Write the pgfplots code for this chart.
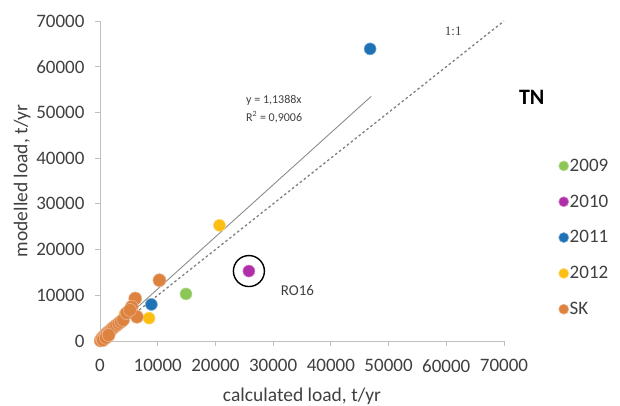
\documentclass[border=0pt]{standalone}
\usepackage{pgfplots}
\pgfplotsset{compat=1.18}
\usepackage{fontspec}
\setmainfont{Carlito}
\newfontfamily\serifone{Liberation Serif}
\definecolor{c09}{HTML}{8CC657}
\definecolor{c10}{HTML}{B02FA8}
\definecolor{c11}{HTML}{1F72B5}
\definecolor{c12}{HTML}{FDBE12}
\definecolor{csk}{HTML}{DE8240}
\definecolor{axgray}{HTML}{BFBFBF}
\definecolor{txgray}{HTML}{404040}
\begin{document}
\begin{tikzpicture}
\path[use as bounding box] (0,0) rectangle (620pt,406pt);
\begin{axis}[
  at={(100pt,65pt)}, anchor=south west,
  scale only axis, width=404pt, height=320pt,
  xmin=0, xmax=70000, ymin=0, ymax=70000,
  axis lines=left, axis line style={axgray, line width=0.8pt, -},
  xtick={0,10000,...,70000}, ytick={0,10000,...,70000},
  tick style={axgray, line width=0.8pt},
  tick align=outside, major tick length=5pt,
  scaled ticks=false,
  /pgf/number format/.cd, set thousands separator={}, assume math mode=true, /pgfplots/.cd,
  tick label style={font=\fontsize{19}{22}\selectfont, text=txgray},
  xticklabel style={yshift=-10pt},
  yticklabel style={xshift=-7pt},
  xlabel={calculated load, t/yr}, ylabel={modelled load, t/yr},
  label style={font=\fontsize{19.5}{23}\selectfont, text=txgray},
  xlabel style={yshift=-9pt},
  ylabel style={yshift=-1pt},
  clip=false,
  legend style={at={(1.135,0.5725)}, anchor=north west, draw=none, fill=none,
    font=\fontsize{19}{22}\selectfont, text=txgray, row sep=20pt, inner sep=0pt,
    nodes={inner sep=1pt}},
  legend cell align=left,
  legend image code/.code={\draw[mark repeat=2,mark phase=2,#1,mark size=5pt] plot coordinates {(0pt,0pt) (5pt,0pt) (10pt,0pt)};},
]
% regression and 1:1 lines
\addplot[forget plot, draw=gray!90, line width=0.9pt] table {
x y
0 0
47000 53524
};
\addplot[forget plot, draw=gray, line width=1.3pt, dash pattern=on 2.5pt off 2.5pt] table {
x y
0 0
70000 70000
};
\addplot[only marks, mark=*, mark size=6pt, mark options={fill=c09, draw=c09!60!white, line width=0.6pt}] table {
x y
14900 10300
};
\addlegendentry{2009}
\addplot[only marks, mark=*, mark size=6pt, mark options={fill=c10, draw=c10!60!white, line width=0.6pt}] table {
x y
25800 15300
};
\addlegendentry{2010}
\addplot[only marks, mark=*, mark size=6pt, mark options={fill=c11, draw=c11!60!white, line width=0.6pt}] table {
x y
46800 63900
8900 8000
};
\addlegendentry{2011}
\addplot[only marks, mark=*, mark size=6pt, mark options={fill=c12, draw=c12!60!white, line width=0.6pt}] table {
x y
20700 25300
8500 5000
4300 5800
};
\addlegendentry{2012}
\addplot[only marks, mark=*, mark size=6.5pt, mark options={fill=csk, draw=csk!60!white, line width=0.6pt}] table {
x y
100 100
300 500
600 900
900 1300
1200 1700
1500 2000
1800 2300
2100 2700
2400 3000
2800 3400
3200 3800
3600 4200
4000 4600
500 200
1000 700
1500 1300
10300 13300
6100 9300
5500 7500
6400 5300
4600 6100
5200 6800
};
\addlegendentry{SK}
\node[draw=black, line width=1.4pt, circle, minimum size=31pt, inner sep=0pt] at (axis cs:25800,15300) {};
\node[anchor=west, font=\fontsize{15}{18}\selectfont, text=txgray, inner sep=0pt] at (axis cs:31300,11000) {RO16};
\node[anchor=west, font=\fontsize{12}{15}\selectfont, text=txgray, inner sep=0pt] at (axis cs:25300,52700) {y = 1,1388x};
\node[anchor=west, font=\fontsize{12}{15}\selectfont, text=txgray, inner sep=0pt] at (axis cs:25300,49000) {R\textsuperscript{2} = 0,9006};
\node[anchor=center, font=\serifone\fontsize{13}{16}\selectfont, text=txgray] at (axis cs:61200,67700) {1:1};
\node[anchor=center, font=\bfseries\fontsize{22}{26}\selectfont, text=black] at (axis cs:74800,53200) {TN};
\end{axis}
\end{tikzpicture}
\end{document}
